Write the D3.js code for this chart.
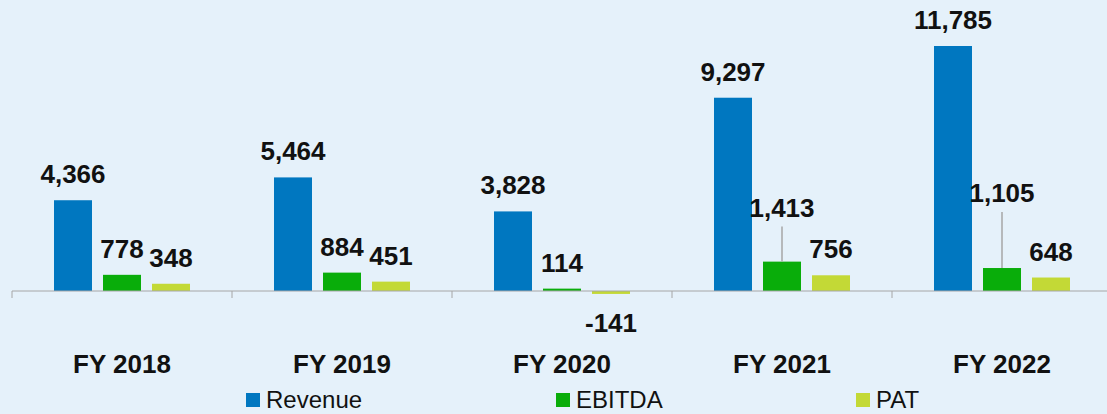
<!DOCTYPE html>
<html lang="en">
<head>
<meta charset="UTF-8">
<title>Revenue EBITDA PAT</title>
<style>
    body { margin: 0; padding: 0; overflow: hidden; background: #e5f1fa; }
    svg { display: block; font-family: "Liberation Sans", Arial, sans-serif; }
</style>
</head>
<body>
<svg id="chart"></svg>
<script src="https://cdn.jsdelivr.net/npm/d3@7"></script>
<script>
    const w = 1107, h = 414;

    const years = ["FY 2018", "FY 2019", "FY 2020", "FY 2021", "FY 2022"];
    const seriesNames = ["Revenue", "EBITDA", "PAT"];
    const revenue = [4366, 5464, 3828, 9297, 11785];
    const ebitda = [778, 884, 114, 1413, 1105];
    const pat = [348, 451, -141, 756, 648];

    const colors = { Revenue: "#0077c0", EBITDA: "#09ad0a", PAT: "#c3d936" };
    // labels pulled up with a leader line
    const lifted = { "FY 2021|EBITDA": 45, "FY 2022|EBITDA": 66 };

    const rows = [];
    years.forEach((y, i) => {
        rows.push({ year: y, s: "Revenue", v: revenue[i] });
        rows.push({ year: y, s: "EBITDA", v: ebitda[i] });
        rows.push({ year: y, s: "PAT", v: pat[i] });
    });

    const svg = d3.select("#chart").attr("width", w).attr("height", h);
    svg.append("rect").attr("width", w).attr("height", h).attr("fill", "#e5f1fa");

    const x0 = d3.scaleBand().domain(years).range([12, 1112]);
    const x1 = d3.scaleBand().domain(seriesNames).range([42, 178]).paddingInner(11 / 49);
    const y = d3.scaleLinear().domain([0, 11785]).range([291, 46]);

    // bars
    svg.selectAll(".bar")
        .data(rows)
        .enter().append("rect")
        .attr("x", d => x0(d.year) + x1(d.s))
        .attr("y", d => y(Math.max(0, d.v)))
        .attr("width", x1.bandwidth())
        .attr("height", d => Math.abs(y(d.v) - y(0)))
        .attr("fill", d => colors[d.s]);

    // axis line + ticks
    const axis = svg.append("g").attr("transform", `translate(0,${y(0)})`)
        .call(d3.axisBottom(x0).tickSize(0).tickFormat(""));
    axis.select(".domain").attr("stroke", "#a6a6a6").attr("d", `M12,0H1112`);
    axis.selectAll(".bnd")
        .data(years)
        .enter().append("line")
        .attr("x1", d => x0(d)).attr("x2", d => x0(d))
        .attr("y1", 0).attr("y2", 7)
        .attr("stroke", "#a6a6a6");

    const fmt = v => d3.format(",")(v).replace("\u2212", "-");

    // leader lines
    svg.selectAll(".leader")
        .data(rows.filter(d => lifted[d.year + "|" + d.s]))
        .enter().append("line")
        .attr("x1", d => x0(d.year) + x1(d.s) + x1.bandwidth() / 2)
        .attr("x2", d => x0(d.year) + x1(d.s) + x1.bandwidth() / 2)
        .attr("y1", d => y(d.v) - lifted[d.year + "|" + d.s] + 10)
        .attr("y2", d => y(d.v))
        .attr("stroke", "#a6a6a6")
        .attr("stroke-width", 1.5);

    // value labels
    svg.selectAll(".val")
        .data(rows)
        .enter().append("text")
        .attr("x", d => x0(d.year) + x1(d.s) + x1.bandwidth() / 2)
        .attr("y", d => {
            if (d.v < 0) return y(d.v) + 38;
            const lift = lifted[d.year + "|" + d.s] || 17;
            return y(d.v) - lift;
        })
        .attr("text-anchor", "middle")
        .attr("font-size", 26)
        .attr("font-weight", "bold")
        .attr("fill", "#111")
        .text(d => fmt(d.v));

    // category labels
    svg.selectAll(".cat")
        .data(years)
        .enter().append("text")
        .attr("x", d => x0(d) + x0.bandwidth() / 2)
        .attr("y", 373)
        .attr("text-anchor", "middle")
        .attr("font-size", 26)
        .attr("font-weight", "bold")
        .attr("fill", "#111")
        .text(d => d);

    // legend
    const legX = { Revenue: 246, EBITDA: 556, PAT: 856 };
    const leg = svg.selectAll(".leg")
        .data(seriesNames)
        .enter().append("g")
        .attr("transform", d => `translate(${legX[d]},393)`);
    leg.append("rect").attr("width", 14).attr("height", 14).attr("fill", d => colors[d]);
    leg.append("text").attr("x", 20).attr("y", 15)
        .attr("font-size", 24)
        .attr("fill", "#111")
        .text(d => d);
</script>
</body>
</html>
